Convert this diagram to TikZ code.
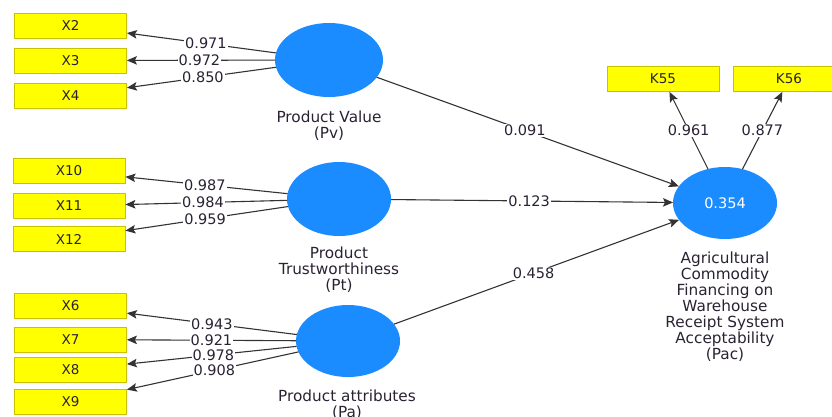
\documentclass[tikz,border=0pt]{standalone}
\usepackage{fontspec}
\setmainfont{DejaVu Sans}
\usetikzlibrary{shapes.geometric,arrows.meta}
\definecolor{latent}{HTML}{1A8CFF}
\definecolor{indfill}{HTML}{FFFF00}
\definecolor{inddraw}{HTML}{C9C200}
\definecolor{ink}{HTML}{2A2233}
\definecolor{edge}{HTML}{333333}
\begin{document}
\begin{tikzpicture}[x=1pt,y=-1pt,
  indicator/.style={rectangle,fill=indfill,draw=inddraw,line width=0.8pt,
    minimum width=112pt,minimum height=25pt,inner sep=0pt,
    font=\fontsize{13.5}{13.5}\selectfont,text=ink},
  construct/.style={ellipse,fill=latent,draw=none,inner sep=0pt,outer sep=0pt},
  caption/.style={align=center,font=\fontsize{15.3}{16}\selectfont,text=ink},
  link/.style={draw=edge,line width=1.1pt,-{Stealth[length=10pt,width=8.5pt,inset=2pt]}},
  coef/.style={fill=white,inner sep=1pt,font=\fontsize{14.5}{14.5}\selectfont,text=ink},
]
\useasboundingbox (0,0) rectangle (832,416);
\clip (0,0) rectangle (832,416);

% latent constructs
\node[construct,minimum width=108pt,minimum height=74pt] (pv) at (329,60) {};
\node[construct,minimum width=104pt,minimum height=74pt] (pt) at (339,199) {};
\node[construct,minimum width=104pt,minimum height=72pt] (pa) at (348,341) {};
\node[construct,minimum width=104pt,minimum height=72pt,text=white,
  font=\fontsize{14.5}{14.5}\selectfont] (pac) at (725,203) {0.354};

% construct captions
\node[caption] (pvcap) at (329,126) {Product Value\\(Pv)};
\node[caption] (ptcap) at (339,270) {Product\\Trustworthiness\\(Pt)};
\node[caption] (pacap) at (347,405) {Product attributes\\(Pa)};
\node[caption] (paccap) at (725,307) {Agricultural\\Commodity\\Financing on\\Warehouse\\Receipt System\\Acceptability\\(Pac)};

% indicators
\node[indicator] (x2) at (70.5,25.5) {X2};
\node[indicator] (x3) at (70.5,60.5) {X3};
\node[indicator] (x4) at (70.5,95.5) {X4};
\node[indicator] (x10) at (69,171) {X10};
\node[indicator] (x11) at (69,206) {X11};
\node[indicator] (x12) at (69,239) {X12};
\node[indicator] (x6) at (70.5,306) {X6};
\node[indicator] (x7) at (70.5,339.5) {X7};
\node[indicator] (x8) at (70.5,370) {X8};
\node[indicator] (x9) at (70.5,402) {X9};
\node[indicator] (k55) at (663,79) {K55};
\node[indicator] (k56) at (789,79) {K56};

% outer loadings
\draw[link] (pv) -- node[coef,pos=0.47] {0.971} (x2);
\draw[link] (pv) -- node[coef,pos=0.51] {0.972} (x3);
\draw[link] (pv) -- node[coef,pos=0.49] {0.850} (x4);
\draw[link] (pt) -- node[coef,pos=0.51] {0.987} (x10);
\draw[link] (pt) -- node[coef,pos=0.52] {0.984} (x11);
\draw[link] (pt) -- node[coef,pos=0.51] {0.959} (x12);
\draw[link] (pa) -- node[coef,pos=0.50] {0.943} (x6);
\draw[link] (pa) -- node[coef,pos=0.50] {0.921} (x7);
\draw[link] (pa) -- node[coef,pos=0.49] {0.978} (x8);
\draw[link] (pa) -- node[coef,pos=0.49] {0.908} (x9);
\draw[link] (pac) -- node[coef] {0.961} (k55);
\draw[link] (pac) -- node[coef] {0.877} (k56);

% path coefficients
\draw[link] (pv) -- node[coef,pos=0.49] {0.091} (pac);
\draw[link] (pt) -- node[coef,pos=0.49] {0.123} (pac);
\draw[link] (pa) -- node[coef,pos=0.49] {0.458} (pac);
\end{tikzpicture}
\end{document}
